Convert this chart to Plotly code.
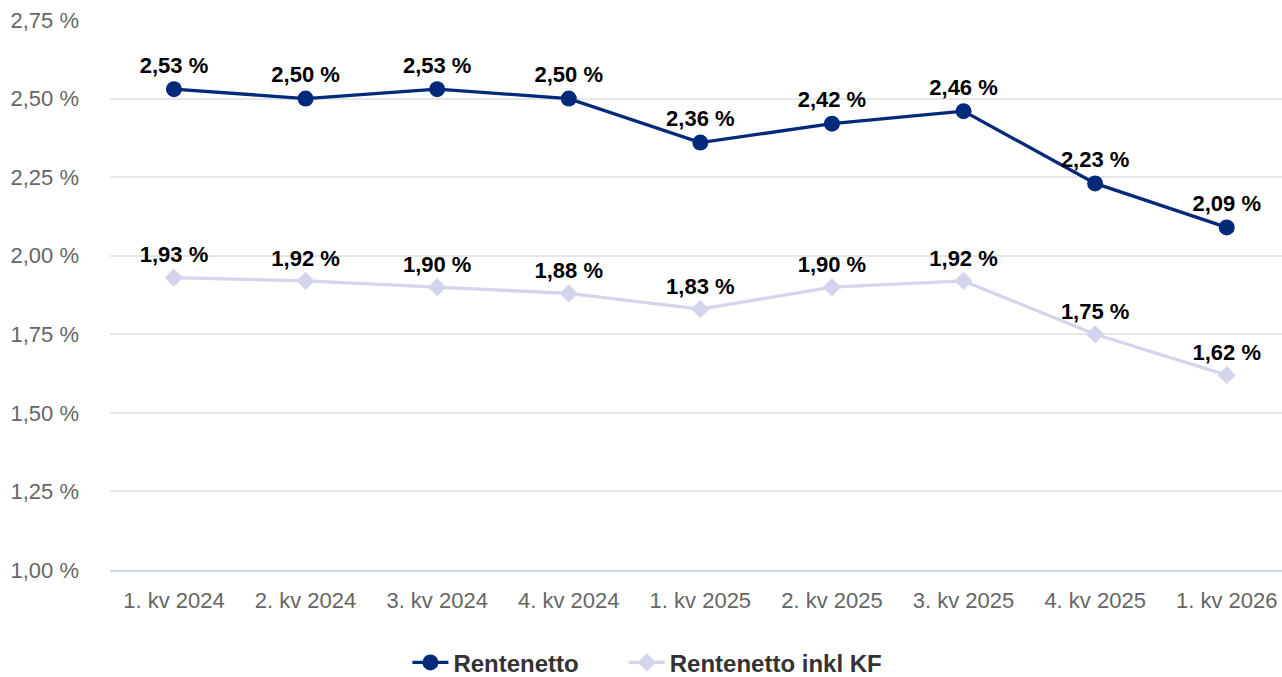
import plotly.graph_objects as go

categories = ["1. kv 2024", "2. kv 2024", "3. kv 2024", "4. kv 2024", "1. kv 2025",
              "2. kv 2025", "3. kv 2025", "4. kv 2025", "1. kv 2026"]
rentenetto = [2.53, 2.50, 2.53, 2.50, 2.36, 2.42, 2.46, 2.23, 2.09]
rentenetto_kf = [1.93, 1.92, 1.90, 1.88, 1.83, 1.90, 1.92, 1.75, 1.62]
y_ticks = [1.00, 1.25, 1.50, 1.75, 2.00, 2.25, 2.50, 2.75]
series_names = ["Rentenetto", "Rentenetto inkl KF"]

def fmt(v):
    return f"{v:.2f}".replace(".", ",") + " %"

FONT = "Liberation Sans, Arial, sans-serif"
PAD = "\u00a0" * 6

fig = go.Figure()
fig.add_trace(go.Scatter(
    x=categories, y=rentenetto, name=series_names[0] + PAD, mode="lines+markers+text",
    line=dict(color="#02297a", width=3.3),
    marker=dict(symbol="circle", size=16, color="#02297a"),
    text=[fmt(v) for v in rentenetto], textposition="top center",
    textfont=dict(family=FONT, size=22, color="#000000", weight="bold"),
    cliponaxis=False,
))
fig.add_trace(go.Scatter(
    x=categories, y=rentenetto_kf, name=series_names[1], mode="lines+markers+text",
    line=dict(color="#d4d4ec", width=3.3),
    marker=dict(symbol="diamond", size=14, color="#d4d4ec"),
    text=[fmt(v) for v in rentenetto_kf], textposition="top center",
    textfont=dict(family=FONT, size=22, color="#000000", weight="bold"),
    cliponaxis=False,
))

fig.update_layout(
    width=1282, height=677,
    margin=dict(l=110, r=0, t=20, b=107),
    paper_bgcolor="white", plot_bgcolor="white",
    font=dict(family=FONT, size=22, color="#666666"),
    separators=", ",
    showlegend=True,
    legend=dict(orientation="h", xref="container", x=0.505, xanchor="center",
                yref="container", y=0.021, yanchor="middle",
                font=dict(family=FONT, size=24, color="#333333", weight="bold"),
                itemwidth=36, tracegroupgap=0),
    xaxis=dict(type="category", range=[-0.486, 8.42], showgrid=False,
               showline=True, linecolor="#ccd6eb", linewidth=2,
               ticks="", ticklabelstandoff=10,
               tickfont=dict(family=FONT, size=22, color="#666666")),
    yaxis=dict(range=[1.0, 2.75], tickvals=y_ticks,
               ticktext=[fmt(v) for v in y_ticks],
               showgrid=True, gridcolor="#e6e6e6", gridwidth=2,
               zeroline=False, showline=False, ticks="",
               ticklabelstandoff=30,
               tickfont=dict(family=FONT, size=22, color="#666666")),
)

fig.write_html("out.html", config={"displayModeBar": False},
               post_script="document.body.style.margin='0';")
